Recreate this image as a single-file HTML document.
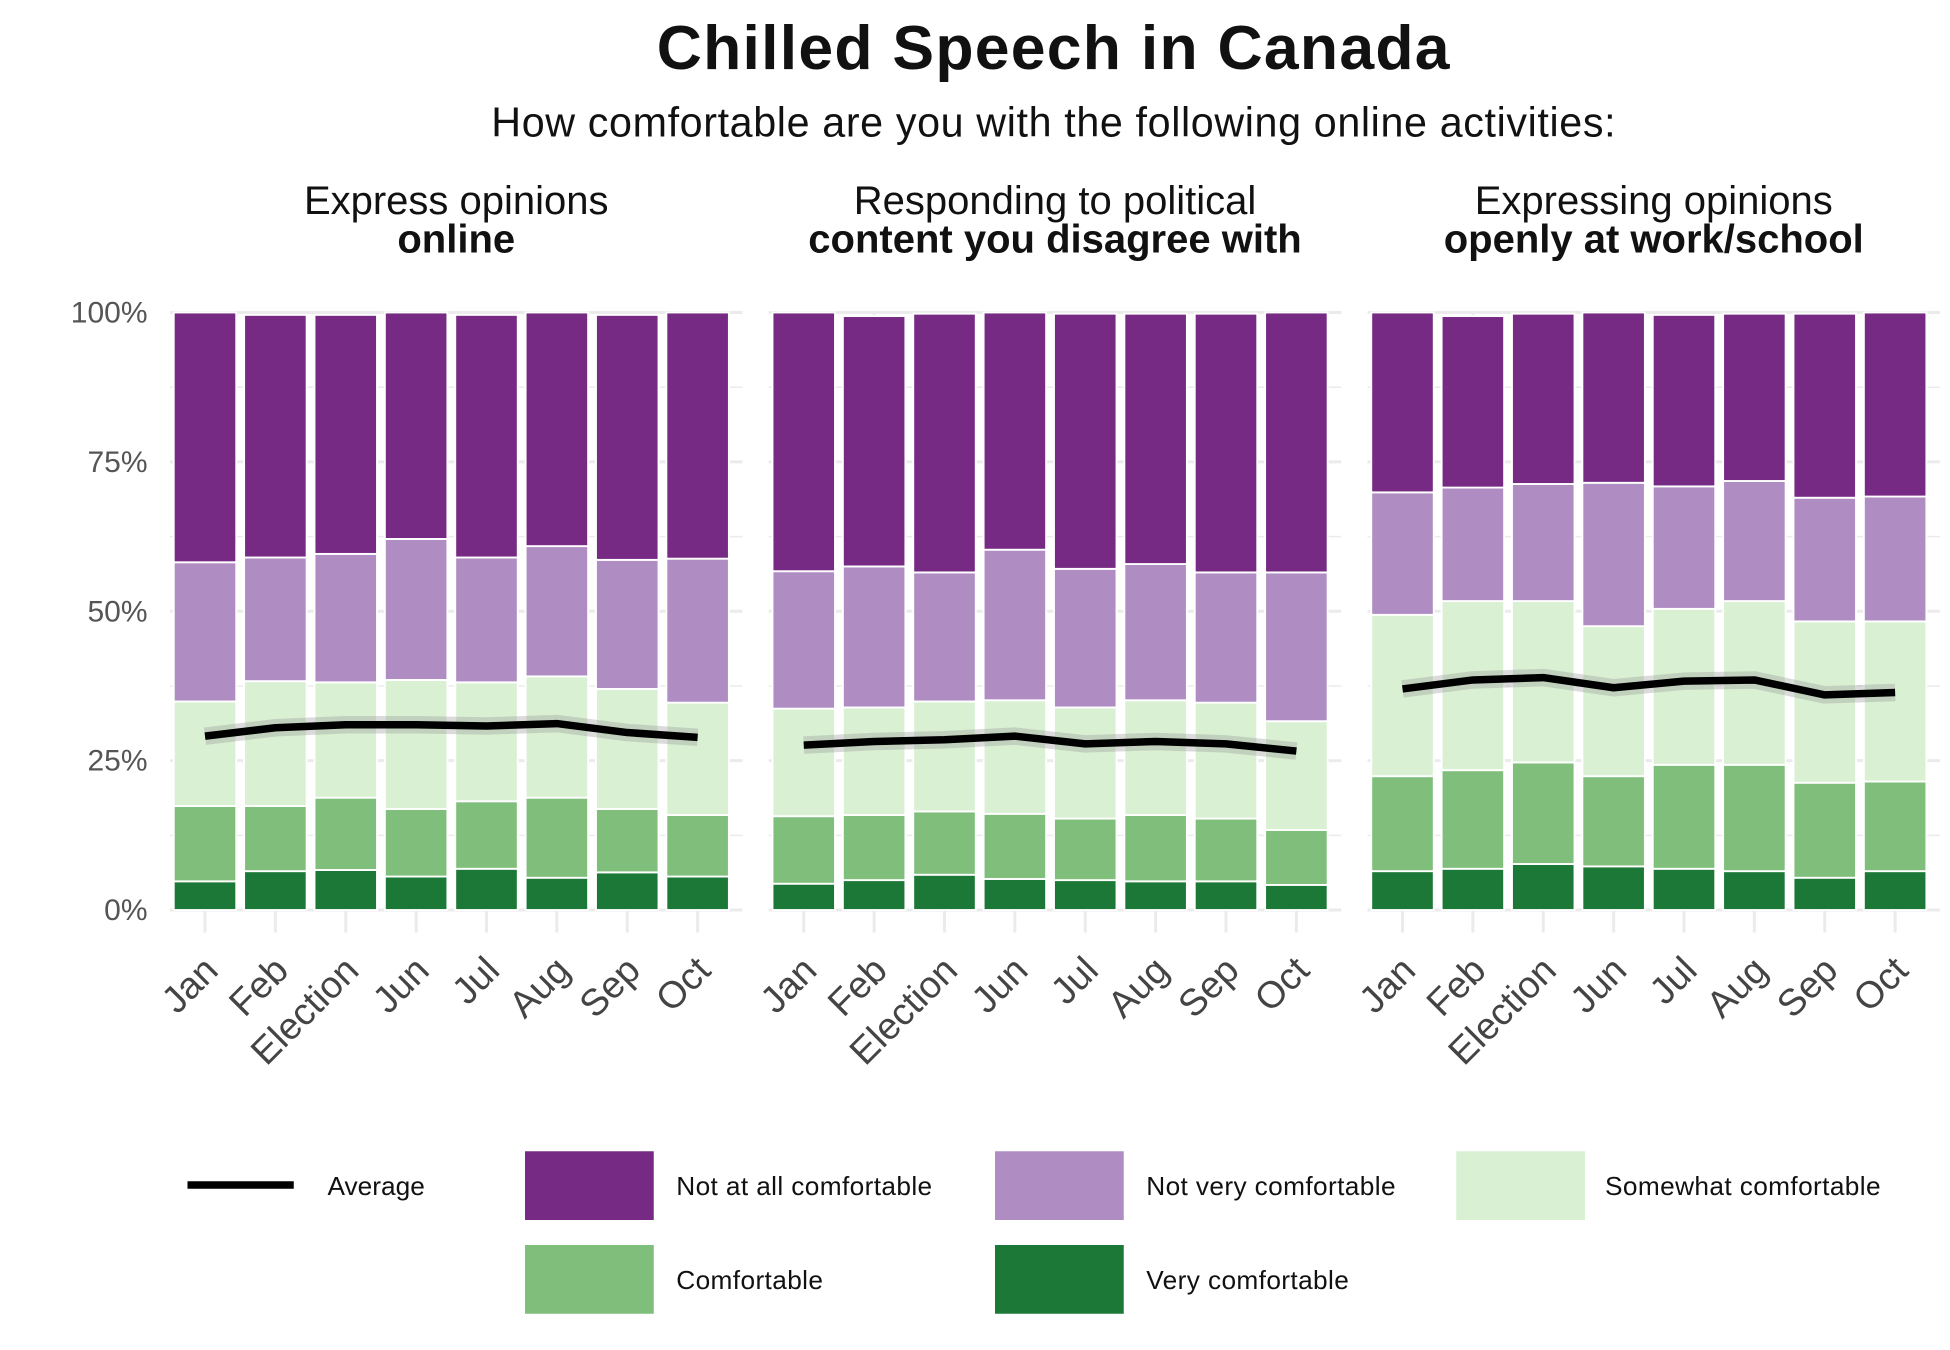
<!DOCTYPE html>
<html><head><meta charset="utf-8"><style>
html,body{margin:0;padding:0;background:#fff}
svg{display:block;font-family:"Liberation Sans",sans-serif}
</style></head><body>
<svg id="chart" width="1950" height="1350" viewBox="0 0 1560 1080" xmlns="http://www.w3.org/2000/svg">
<text x="843" y="55" text-anchor="middle" font-size="50" font-weight="bold" letter-spacing="1" fill="#111">Chilled Speech in Canada</text>
<text x="843" y="109" text-anchor="middle" font-size="33" letter-spacing="0.5" fill="#111">How comfortable are you with the following online activities:</text>
<g id="panels"></g>
<g id="legend"></g>
</svg>
<script>
const categories = ["Jan","Feb","Election","Jun","Jul","Aug","Sep","Oct"];
const panelTitles = [["Express opinions","online"],["Responding to political","content you disagree with"],["Expressing opinions","openly at work/school"]];
const seriesNames = ["Very comfortable","Comfortable","Somewhat comfortable","Not very comfortable","Not at all comfortable"];
const seriesColors = ["#1b7837","#7fbf7b","#d9f0d3","#af8dc3","#762a83"];
// cumulative tops (%) per panel
const p1VeryComf = [4.8,6.5,6.7,5.6,6.9,5.4,6.3,5.6];
const p1Comf = [17.4,17.4,18.8,16.9,18.2,18.8,16.9,15.9];
const p1Somewhat = [34.9,38.3,38.1,38.5,38.1,39.1,37.0,34.7];
const p1NotVery = [58.2,59.0,59.6,62.1,59.0,60.9,58.6,58.8];
const p1Total = [100,99.6,99.6,100,99.6,100,99.6,100];
const p1Avg = [29.1,30.5,31.0,31.0,30.8,31.2,29.7,28.9];
const p2VeryComf = [4.4,5.0,5.9,5.2,5.0,4.8,4.8,4.2];
const p2Comf = [15.7,15.9,16.5,16.1,15.3,15.9,15.3,13.4];
const p2Somewhat = [33.7,33.9,34.9,35.1,33.9,35.1,34.7,31.6];
const p2NotVery = [56.7,57.5,56.5,60.3,57.1,57.9,56.5,56.5];
const p2Total = [100,99.4,99.8,100,99.8,99.8,99.8,100];
const p2Avg = [27.6,28.2,28.5,29.1,27.8,28.2,27.8,26.6];
const p3VeryComf = [6.5,6.9,7.7,7.3,6.9,6.5,5.4,6.5];
const p3Comf = [22.4,23.4,24.7,22.4,24.3,24.3,21.3,21.5];
const p3Somewhat = [49.4,51.7,51.7,47.5,50.4,51.7,48.3,48.3];
const p3NotVery = [69.9,70.7,71.3,71.5,70.9,71.8,69.0,69.2];
const p3Total = [100,99.4,99.8,100,99.6,99.8,99.8,100];
const p3Avg = [37.0,38.5,38.9,37.2,38.3,38.5,36.0,36.4];
const panels = [
  [p1VeryComf,p1Comf,p1Somewhat,p1NotVery,p1Total,p1Avg],
  [p2VeryComf,p2Comf,p2Somewhat,p2NotVery,p2Total,p2Avg],
  [p3VeryComf,p3Comf,p3Somewhat,p3NotVery,p3Total,p3Avg]];
const yTicks = [0,25,50,75,100];
const yTickLabels = ["0%","25%","50%","75%","100%"];

const NS="http://www.w3.org/2000/svg";
function mk(tag,attrs,parent){const e=document.createElementNS(NS,tag);for(const k in attrs)e.setAttribute(k,attrs[k]);parent.appendChild(e);return e;}
const y = v => 728 - v*4.78;
const panelLeft = [136,615,1094];
const x = (p,i) => panelLeft[p] + 28 + i*56.3;
const root=document.getElementById('panels');

panels.forEach((pd,p)=>{
  const g=mk('g',{},root);
  
  
  const L=panelLeft[p], R=L+458;
  for(let t=0;t<=100;t+=12.5){
    const l=mk('line',{x1:L,x2:R,y1:y(t),y2:y(t),stroke:'#ebebeb','stroke-width':t%25===0?2.4:1.2},g);
    
    
  }
  categories.forEach((c,i)=>{
    const l=mk('line',{x1:x(p,i),x2:x(p,i),y1:250,y2:746,stroke:'#ebebeb','stroke-width':2.4},g);
    
    
  });
  categories.forEach((c,i)=>{
    let prev=0;
    for(let s=0;s<5;s++){
      const top=pd[s][i];
      const r=mk('rect',{x:x(p,i)-25,y:y(top),width:50,height:y(prev)-y(top),fill:seriesColors[s],stroke:'#fff','stroke-width':1.5},g);
      
      
      prev=top;
    }
  });
  const avg=pd[5];
  const pts=avg.map((v,i)=>x(p,i)+','+y(v)).join(' ');
  const band=mk('polyline',{points:pts,fill:'none',stroke:'#999','stroke-opacity':0.35,'stroke-width':14,'stroke-linejoin':'round'},g);
  
  
  const ln=mk('polyline',{points:pts,fill:'none',stroke:'#000','stroke-width':6,'stroke-linejoin':'round'},g);
  
  
  categories.forEach((c,i)=>{
    const tx=x(p,i)+12, ty=778;
    const t=mk('text',{x:tx,y:ty,'text-anchor':'end','font-size':30,fill:'#444',transform:`rotate(-45 ${tx} ${ty})`},g);
    t.textContent=c;
    
    
  });
  const cx=(L+R)/2;
  const t1=mk('text',{x:cx,y:171,'text-anchor':'middle','font-size':32,fill:'#111'},g);
  t1.textContent=panelTitles[p][0];
  
  
  const t2=mk('text',{x:cx,y:202,'text-anchor':'middle','font-size':32,'font-weight':'bold',fill:'#111'},g);
  t2.textContent=panelTitles[p][1];
  
  
});
yTicks.forEach((v,i)=>{
  const t=mk('text',{x:118,y:y(v)+8,'text-anchor':'end','font-size':24,fill:'#555'},root);
  t.textContent=yTickLabels[i];
  
  
});
const lg=document.getElementById('legend');
const al=mk('line',{x1:150,x2:235,y1:948,y2:948,stroke:'#000','stroke-width':6},lg);


const at=mk('text',{x:262,y:956,'font-size':21,fill:'#111'},lg);
at.textContent='Average';


const legItems=[[4,420,921,541],[3,796,921,917],[2,1165,921,1284],[1,420,996,541],[0,796,996,917]];
legItems.forEach(([s,sx,sy,tx])=>{
  const r=mk('rect',{x:sx,y:sy,width:103,height:55,fill:seriesColors[s]},lg);
  
  
  const t=mk('text',{x:tx,y:sy+35,'font-size':21,'letter-spacing':0.3,fill:'#111'},lg);
  t.textContent=seriesNames[s];
  
  
});
</script>
</body></html>
